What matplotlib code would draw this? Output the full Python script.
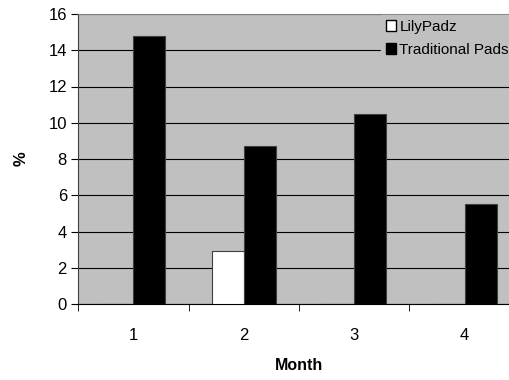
import matplotlib
matplotlib.use("Agg")
import matplotlib.pyplot as plt
import numpy as np
from matplotlib.patches import Patch

plt.rcParams['font.family'] = ['Liberation Sans', 'DejaVu Sans']

months = ["1", "2", "3", "4"]
lilypadz = [0, 2.9, 0, 0]
traditional = [14.8, 8.7, 10.5, 5.5]
yticks = [0, 2, 4, 6, 8, 10, 12, 14, 16]

fig = plt.figure(figsize=(5.1, 3.8), dpi=100)
ax = fig.add_axes([78/510, 1-304/380, 442/510, 290/380])
ax.set_facecolor('#c0c0c0')

x = np.arange(len(months))
w = 0.29
ax.bar(x - w/2, lilypadz, w, color='white', edgecolor='#404040', linewidth=0.8, zorder=3)
ax.bar(x + w/2, traditional, w, color='black', edgecolor='#404040', linewidth=0.8, zorder=3)

ax.set_xlim(-0.5, len(months) - 0.5)
ax.set_ylim(0, 16)
ax.set_yticks(yticks)
ax.set_yticklabels([str(v) for v in yticks], fontsize=12)
ax.yaxis.grid(True, color='black', linewidth=0.8, zorder=1)
ax.set_axisbelow(True)

ax.set_xticks(x)
ax.set_xticklabels(months, fontsize=12)
ax.set_xticks(np.arange(len(months) + 1) - 0.5, minor=True)
ax.tick_params(axis='x', which='major', length=0, pad=17)
ax.tick_params(axis='x', which='minor', length=5, direction='out', color='black')
ax.tick_params(axis='y', length=5, direction='out', color='black', pad=3)

for s in ['top', 'right']:
    ax.spines[s].set_color('#808080')
ax.spines['left'].set_color('#404040')
ax.spines['bottom'].set_color('black')

ax.set_xlabel('Month', fontsize=11.5, fontweight='bold', labelpad=11)
ax.set_ylabel('%', fontsize=12, fontweight='bold', labelpad=14)

handles = [Patch(facecolor='white', edgecolor='black', label='LilyPadz'),
           Patch(facecolor='black', edgecolor='black', label='Traditional Pads')]
leg = ax.legend(handles=handles, loc='upper left', bbox_to_anchor=(381/510, 1-15/380),
                bbox_transform=fig.transFigure, frameon=True, fancybox=False,
                fontsize=11, handlelength=0.7, handleheight=0.7, handletextpad=0.2,
                labelspacing=0.6, borderpad=0.3, borderaxespad=0)
leg.get_frame().set_facecolor('#c0c0c0')
leg.get_frame().set_edgecolor('#c0c0c0')
leg.get_frame().set_alpha(1)
leg.set_zorder(5)

fig.savefig('out.png', dpi=100)
